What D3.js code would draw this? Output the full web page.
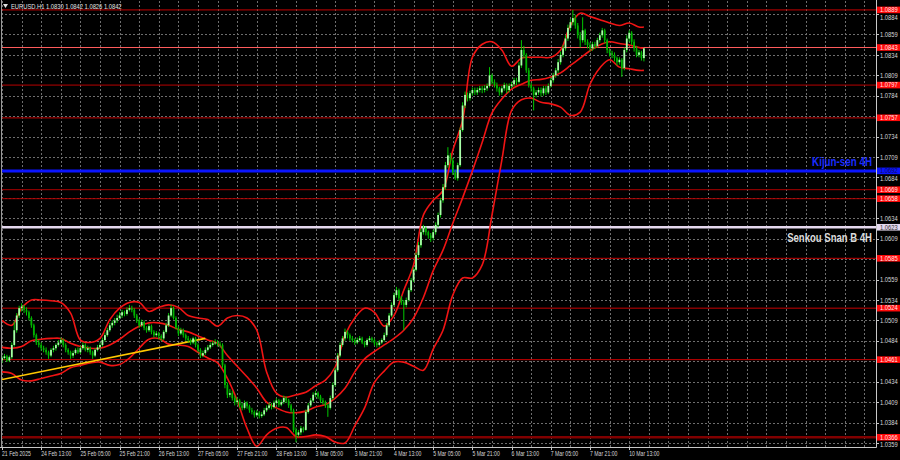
<!DOCTYPE html>
<html><head><meta charset="utf-8">
<script src="https://cdn.jsdelivr.net/npm/d3@7/dist/d3.min.js"></script>
<style>html,body{margin:0;padding:0;background:#000;overflow:hidden}</style>
</head><body>
<svg id="c" width="900" height="460"></svg>
<script>
// ---------- DATA (EURUSD H1) ----------
const symbolTitle = "EURUSD.H1  1.0830 1.0842 1.0826 1.0842";
const firstOpen = 1.0460;
const closes = [
1.0463,1.0465,1.0460,1.0464,1.0479,1.0497,1.0515,1.0524,1.0526,1.0522,
1.0519,1.0512,1.0503,1.0491,1.0482,1.0479,1.0475,1.0473,1.0470,1.0466,
1.0473,1.0475,1.0479,1.0482,1.0485,1.0479,1.0473,1.0470,1.0466,1.0469,
1.0473,1.0470,1.0475,1.0479,1.0473,1.0475,1.0470,1.0466,1.0473,1.0476,
1.0479,1.0485,1.0491,1.0497,1.0503,1.0506,1.0509,1.0512,1.0515,1.0519,
1.0517,1.0522,1.0524,1.0522,1.0515,1.0509,1.0503,1.0507,1.0500,1.0497,
1.0502,1.0495,1.0491,1.0493,1.0490,1.0487,1.0495,1.0503,1.0515,1.0524,
1.0512,1.0500,1.0493,1.0497,1.0491,1.0487,1.0485,1.0482,1.0487,1.0479,
1.0473,1.0466,1.0469,1.0473,1.0476,1.0479,1.0481,1.0482,1.0480,1.0479,
1.0454,1.0430,1.0418,1.0420,1.0414,1.0409,1.0411,1.0405,1.0402,1.0408,
1.0404,1.0399,1.0397,1.0393,1.0396,1.0392,1.0394,1.0399,1.0402,1.0405,
1.0403,1.0408,1.0411,1.0406,1.0409,1.0414,1.0411,1.0405,1.0399,1.0375,
1.0369,1.0372,1.0377,1.0375,1.0397,1.0405,1.0411,1.0418,1.0420,1.0416,
1.0411,1.0409,1.0405,1.0402,1.0414,1.0430,1.0448,1.0466,1.0479,1.0487,
1.0495,1.0491,1.0487,1.0485,1.0482,1.0485,1.0487,1.0482,1.0479,1.0485,
1.0487,1.0485,1.0481,1.0479,1.0482,1.0485,1.0491,1.0503,1.0515,1.0528,
1.0540,1.0546,1.0536,1.0531,1.0528,1.0534,1.0546,1.0558,1.0571,1.0589,
1.0601,1.0617,1.0622,1.0617,1.0613,1.0610,1.0617,1.0626,1.0638,1.0656,
1.0672,1.0699,1.0711,1.0705,1.0690,1.0683,1.0699,1.0742,1.0772,1.0785,
1.0781,1.0787,1.0791,1.0788,1.0791,1.0793,1.0791,1.0793,1.0796,1.0809,
1.0801,1.0797,1.0793,1.0788,1.0793,1.0797,1.0791,1.0796,1.0798,1.0803,
1.0801,1.0821,1.0840,1.0834,1.0815,1.0797,1.0793,1.0785,1.0788,1.0791,
1.0787,1.0793,1.0788,1.0796,1.0803,1.0809,1.0815,1.0825,1.0834,1.0842,
1.0854,1.0867,1.0874,1.0879,1.0870,1.0858,1.0852,1.0864,1.0850,1.0846,
1.0842,1.0847,1.0845,1.0852,1.0858,1.0864,1.0852,1.0840,1.0836,1.0834,
1.0830,1.0825,1.0828,1.0818,1.0840,1.0854,1.0861,1.0850,1.0842,1.0834,
1.0837,1.0830,1.0842];
const highs = [
1.0466,1.0468,1.0467,1.0466,1.0482,1.0508,1.0518,1.0527,1.0530,1.0528,
1.0525,1.0521,1.0514,1.0505,1.0493,1.0485,1.0482,1.0478,1.0476,1.0472,
1.0475,1.0478,1.0481,1.0485,1.0488,1.0487,1.0481,1.0475,1.0472,1.0472,
1.0475,1.0476,1.0478,1.0482,1.0481,1.0478,1.0477,1.0472,1.0475,1.0479,
1.0482,1.0488,1.0494,1.0500,1.0506,1.0509,1.0512,1.0516,1.0519,1.0522,
1.0521,1.0525,1.0528,1.0527,1.0524,1.0517,1.0511,1.0510,1.0509,1.0502,
1.0505,1.0504,1.0497,1.0496,1.0495,1.0492,1.0497,1.0506,1.0518,1.0528,
1.0526,1.0514,1.0502,1.0500,1.0499,1.0493,1.0490,1.0487,1.0489,1.0489,
1.0481,1.0475,1.0472,1.0476,1.0479,1.0482,1.0484,1.0486,1.0485,1.0483,
1.0481,1.0456,1.0433,1.0425,1.0423,1.0417,1.0415,1.0413,1.0408,1.0411,
1.0410,1.0406,1.0402,1.0399,1.0399,1.0398,1.0397,1.0402,1.0405,1.0408,
1.0408,1.0411,1.0414,1.0413,1.0412,1.0417,1.0416,1.0413,1.0407,1.0401,
1.0378,1.0375,1.0380,1.0379,1.0400,1.0408,1.0414,1.0421,1.0423,1.0422,
1.0418,1.0414,1.0411,1.0407,1.0417,1.0433,1.0451,1.0469,1.0482,1.0490,
1.0499,1.0497,1.0493,1.0490,1.0487,1.0488,1.0490,1.0489,1.0484,1.0487,
1.0490,1.0489,1.0487,1.0483,1.0485,1.0487,1.0494,1.0506,1.0518,1.0531,
1.0543,1.0550,1.0548,1.0539,1.0534,1.0537,1.0549,1.0561,1.0574,1.0592,
1.0605,1.0621,1.0626,1.0624,1.0619,1.0616,1.0620,1.0629,1.0641,1.0659,
1.0676,1.0703,1.0721,1.0714,1.0708,1.0693,1.0702,1.0745,1.0776,1.0789,
1.0788,1.0790,1.0794,1.0794,1.0794,1.0796,1.0796,1.0797,1.0799,1.0819,
1.0811,1.0804,1.0800,1.0795,1.0796,1.0800,1.0799,1.0799,1.0801,1.0806,
1.0806,1.0825,1.0852,1.0845,1.0836,1.0818,1.0800,1.0795,1.0791,1.0794,
1.0794,1.0796,1.0796,1.0799,1.0806,1.0812,1.0818,1.0829,1.0838,1.0846,
1.0858,1.0871,1.0878,1.0889,1.0883,1.0873,1.0862,1.0880,1.0866,1.0853,
1.0849,1.0850,1.0850,1.0855,1.0861,1.0867,1.0866,1.0854,1.0842,1.0839,
1.0837,1.0832,1.0831,1.0830,1.0843,1.0858,1.0864,1.0863,1.0853,1.0845,
1.0840,1.0839,1.0842];
const lows = [
1.0457,1.0461,1.0458,1.0458,1.0462,1.0477,1.0494,1.0512,1.0520,1.0518,
1.0515,1.0509,1.0500,1.0488,1.0479,1.0476,1.0472,1.0470,1.0467,1.0462,
1.0464,1.0470,1.0472,1.0477,1.0480,1.0476,1.0470,1.0467,1.0462,1.0463,
1.0467,1.0468,1.0468,1.0473,1.0471,1.0470,1.0467,1.0462,1.0464,1.0471,
1.0474,1.0477,1.0483,1.0489,1.0495,1.0500,1.0503,1.0506,1.0510,1.0512,
1.0514,1.0515,1.0520,1.0519,1.0512,1.0506,1.0500,1.0501,1.0497,1.0494,
1.0495,1.0492,1.0488,1.0489,1.0486,1.0484,1.0485,1.0493,1.0501,1.0513,
1.0510,1.0498,1.0490,1.0491,1.0488,1.0484,1.0482,1.0479,1.0480,1.0476,
1.0470,1.0463,1.0464,1.0467,1.0471,1.0474,1.0477,1.0479,1.0477,1.0476,
1.0451,1.0426,1.0414,1.0415,1.0411,1.0405,1.0406,1.0402,1.0399,1.0400,
1.0401,1.0396,1.0394,1.0390,1.0391,1.0389,1.0390,1.0392,1.0397,1.0400,
1.0400,1.0401,1.0406,1.0403,1.0404,1.0407,1.0408,1.0402,1.0396,1.0372,
1.0360,1.0366,1.0369,1.0372,1.0374,1.0395,1.0403,1.0409,1.0415,1.0413,
1.0408,1.0406,1.0402,1.0391,1.0400,1.0412,1.0428,1.0446,1.0464,1.0477,
1.0484,1.0487,1.0484,1.0482,1.0479,1.0480,1.0483,1.0480,1.0476,1.0477,
1.0483,1.0482,1.0478,1.0476,1.0477,1.0480,1.0483,1.0489,1.0501,1.0513,
1.0526,1.0537,1.0533,1.0528,1.0497,1.0525,1.0532,1.0544,1.0556,1.0569,
1.0586,1.0598,1.0614,1.0613,1.0609,1.0605,1.0607,1.0614,1.0623,1.0635,
1.0653,1.0669,1.0696,1.0701,1.0687,1.0681,1.0680,1.0697,1.0740,1.0769,
1.0777,1.0778,1.0784,1.0785,1.0785,1.0788,1.0787,1.0788,1.0790,1.0794,
1.0798,1.0794,1.0789,1.0784,1.0785,1.0790,1.0787,1.0788,1.0793,1.0795,
1.0797,1.0799,1.0818,1.0830,1.0812,1.0794,1.0789,1.0766,1.0782,1.0785,
1.0783,1.0784,1.0785,1.0786,1.0794,1.0800,1.0806,1.0812,1.0822,1.0831,
1.0839,1.0851,1.0863,1.0870,1.0866,1.0854,1.0843,1.0849,1.0846,1.0842,
1.0838,1.0839,1.0841,1.0843,1.0849,1.0855,1.0848,1.0836,1.0832,1.0830,
1.0826,1.0821,1.0822,1.0807,1.0815,1.0837,1.0850,1.0846,1.0838,1.0831,
1.0831,1.0827,1.0826];

// Bollinger bands, read at every 4th bar
const bbIndex = [0,4,8,12,16,20,24,28,32,36,40,44,48,52,56,60,64,68,72,76,80,84,88,92,96,100,
 104,108,112,116,120,124,128,132,136,140,144,148,152,156,160,164,168,172,176,180,184,188,192,196,
 200,204,208,212,216,220,224,228,232,236,240,244,248,252,256,260,262];
const bbUpper = [1.0509,1.0503,1.0524,1.0534,1.0534,1.0533,1.0531,1.0518,1.0485,1.0482,1.0487,1.0510,
 1.0524,1.0531,1.0531,1.0520,1.0525,1.0528,1.0525,1.0515,1.0512,1.0510,1.0502,1.0512,1.0515,1.0512,
 1.0497,1.0446,1.0420,1.0415,1.0418,1.0421,1.0429,1.0436,1.0452,1.0491,1.0512,1.0524,1.0519,1.0502,
 1.0515,1.0546,1.0577,1.0638,1.0656,1.0668,1.0717,1.0754,1.0831,1.0847,1.0850,1.0840,1.0820,1.0830,
 1.0831,1.0831,1.0831,1.0840,1.0870,1.0885,1.0881,1.0877,1.0873,1.0870,1.0873,1.0868,1.0868];
const bbMiddle = [1.0476,1.0475,1.0477,1.0484,1.0486,1.0487,1.0487,1.0481,1.0477,1.0475,1.0475,1.0479,
 1.0486,1.0495,1.0502,1.0506,1.0506,1.0503,1.0498,1.0495,1.0490,1.0485,1.0481,1.0466,1.0453,1.0440,
 1.0426,1.0409,1.0402,1.0397,1.0396,1.0398,1.0403,1.0406,1.0414,1.0426,1.0446,1.0462,1.0471,1.0479,
 1.0487,1.0497,1.0512,1.0537,1.0570,1.0595,1.0628,1.0659,1.0692,1.0727,1.0763,1.0780,1.0792,1.0798,
 1.0803,1.0804,1.0807,1.0812,1.0821,1.0830,1.0839,1.0846,1.0850,1.0848,1.0846,1.0843,1.0842];
const bbLower = [1.0446,1.0444,1.0436,1.0435,1.0438,1.0441,1.0444,1.0451,1.0454,1.0457,1.0458,1.0454,
 1.0455,1.0463,1.0475,1.0486,1.0487,1.0480,1.0479,1.0477,1.0470,1.0463,1.0457,1.0438,1.0411,1.0377,
 1.0355,1.0369,1.0377,1.0378,1.0367,1.0367,1.0369,1.0367,1.0360,1.0359,1.0380,1.0402,1.0433,1.0447,
 1.0458,1.0458,1.0453,1.0448,1.0474,1.0497,1.0540,1.0561,1.0561,1.0577,1.0638,1.0705,1.0766,1.0779,
 1.0781,1.0776,1.0774,1.0770,1.0760,1.0764,1.0798,1.0818,1.0828,1.0819,1.0817,1.0815,1.0815];

// yellow trend line: [bar index, price]
const trendPoints = [[-1, 1.0436], [83, 1.0487]];

// horizontal levels
const redLevels = [1.0889, 1.0843, 1.0797, 1.0757, 1.0669, 1.0658, 1.0585, 1.0524, 1.0461, 1.0366];
const kijunLevel = 1.0692;
const senkouLevel = 1.0623;
const kijunText = "Kijun-sen 4H";
const senkouText = "Senkou Snan B 4H";

// axis
const priceTicks = [1.0359,1.0384,1.0409,1.0434,1.0459,1.0484,1.0509,1.0534,1.0559,1.0584,1.0609,
 1.0634,1.0659,1.0684,1.0709,1.0734,1.0759,1.0784,1.0809,1.0834,1.0859,1.0884];
const timeLabels = ["21 Feb 2025","24 Feb 13:00","25 Feb 05:00","25 Feb 21:00","26 Feb 13:00",
 "27 Feb 05:00","27 Feb 21:00","28 Feb 13:00","3 Mar 05:00","3 Mar 21:00","4 Mar 13:00",
 "5 Mar 05:00","5 Mar 21:00","6 Mar 13:00","7 Mar 05:00","7 Mar 21:00","10 Mar 13:00"];
const labelEvery = 16, gridEvery = 8;

// ---------- STYLES ----------
const levelStyle = {
  1.0889:{c:"#c40000",w:1}, 1.0843:{c:"#ff5c5c",w:1.2}, 1.0797:{c:"#b80000",w:1},
  1.0757:{c:"#9c0000",w:1.2}, 1.0669:{c:"#a80000",w:1}, 1.0658:{c:"#b00000",w:1},
  1.0585:{c:"#c00000",w:1}, 1.0524:{c:"#c80000",w:1}, 1.0461:{c:"#c80000",w:1},
  1.0366:{c:"#800000",w:2.6}
};
const plotR = 876, plotB = 447;

// ---------- DRAW ----------
const svg = d3.select("#c");
svg.append("rect").attr("width",900).attr("height",460).attr("fill","#000");

const x = d3.scaleLinear().domain([0, closes.length-1]).range([2, 2 + (closes.length-1)*2.45]);
const y = d3.scaleLinear().domain([1.0359, 1.0884]).range([443, 14]);
const step = x(1) - x(0);

svg.append("clipPath").attr("id","clp").append("rect").attr("x",1).attr("y",1).attr("width",plotR-1).attr("height",plotB-1);
const plot = svg.append("g").attr("clip-path","url(#clp)");

// grid
const nGrid = Math.floor((plotR - x(0)) / (step*gridEvery));
const gridIdx = d3.range(0, nGrid+1).map(k => k*gridEvery);
plot.selectAll(".vg").data(gridIdx).join("line")
  .attr("x1", d => Math.round(x(d))+0.5).attr("x2", d => Math.round(x(d))+0.5)
  .attr("y1", 1).attr("y2", plotB)
  .attr("stroke","#6e6e6e").attr("stroke-width",1).attr("stroke-dasharray","2,2");
plot.selectAll(".hg").data(priceTicks).join("line")
  .attr("x1", 1).attr("x2", plotR)
  .attr("y1", d => Math.round(y(d))+0.5).attr("y2", d => Math.round(y(d))+0.5)
  .attr("stroke","#6e6e6e").attr("stroke-width",1).attr("stroke-dasharray","2,2");

// levels
plot.selectAll(".lv").data(redLevels).join("line")
  .attr("x1",1).attr("x2",plotR)
  .attr("y1", d => y(d)).attr("y2", d => y(d))
  .attr("stroke", d => levelStyle[d].c).attr("stroke-width", d => levelStyle[d].w);
plot.append("line").attr("x1",1).attr("x2",plotR).attr("y1",y(kijunLevel)).attr("y2",y(kijunLevel))
  .attr("stroke","#0a14ff").attr("stroke-width",3);
plot.append("line").attr("x1",1).attr("x2",plotR).attr("y1",y(senkouLevel)).attr("y2",y(senkouLevel))
  .attr("stroke","#e4d8ee").attr("stroke-width",2.4);

// bands
const bandLine = vals => d3.line().x((d,k) => x(bbIndex[k])).y(d => y(d)).curve(d3.curveCatmullRom.alpha(0.5))(vals);
[bbUpper, bbMiddle, bbLower].forEach(v => {
  plot.append("path").attr("d", bandLine(v)).attr("fill","none")
    .attr("stroke","#f01414").attr("stroke-width",1.6);
});

// trend line
plot.append("line")
  .attr("x1", x(trendPoints[0][0])).attr("y1", y(trendPoints[0][1]))
  .attr("x2", x(trendPoints[1][0])).attr("y2", y(trendPoints[1][1]))
  .attr("stroke","#ffc800").attr("stroke-width",1.6);

// candles
const bars = closes.map((c,i) => ({i, o: i===0 ? firstOpen : closes[i-1], c, h: highs[i], l: lows[i]}));
const cg = plot.append("g");
cg.selectAll(".wk").data(bars).join("line")
  .attr("x1", d => x(d.i)).attr("x2", d => x(d.i))
  .attr("y1", d => y(d.h)).attr("y2", d => y(d.l))
  .attr("stroke","#00c800").attr("stroke-width",1);
cg.selectAll(".bd").data(bars).join("rect")
  .attr("x", d => x(d.i) - 0.9).attr("width", 1.8)
  .attr("y", d => y(Math.max(d.o,d.c)))
  .attr("height", d => Math.max(1, Math.abs(y(d.o) - y(d.c))))
  .attr("fill", d => d.c >= d.o ? "#a8ffa8" : "#00b400");

// frame
svg.append("line").attr("x1",plotR+0.5).attr("x2",plotR+0.5).attr("y1",0).attr("y2",plotB+0.5).attr("stroke","#c8c8c8");
svg.append("line").attr("x1",0).attr("x2",plotR+0.5).attr("y1",plotB+0.5).attr("y2",plotB+0.5).attr("stroke","#c8c8c8");
svg.append("line").attr("x1",1.5).attr("x2",1.5).attr("y1",0).attr("y2",plotB).attr("stroke","#9a9a9a");

// helper: text squeezed horizontally to a target width
function fitText(parent, str, px, py, anchor, size, weight, fill, family, targetW) {
  const g = parent.append("g");
  const t = g.append("text").attr("font-family",family).attr("font-weight",weight)
    .attr("font-size",size).attr("fill",fill).attr("text-anchor",anchor).text(str);
  const len = t.node().getComputedTextLength() || targetW;
  g.attr("transform", `translate(${px},${py}) scale(${targetW/len},1)`);
  return g;
}

// texts on chart
const narrow = "'Liberation Sans Narrow','Liberation Sans',Arial,sans-serif";
fitText(svg, kijunText, 872, 165.5, "end", 12.5, "bold", "#1a2cff", narrow, 60);
fitText(svg, senkouText, 872, 241.5, "end", 12, "bold", "#dcdcdc", narrow, 85);

// title
svg.append("path").attr("d","M3,4 L8,4 L5.5,8 Z").attr("fill","#e0e0e0");
fitText(svg, symbolTitle, 11, 8.5, "start", 7, "normal", "#e6e6e6", "'Liberation Sans',Arial,sans-serif", 111);

// price axis labels
const axFont = "'Liberation Sans',Arial,sans-serif";
const fmt = d3.format(".4f");
const boxLevels = redLevels.concat([kijunLevel, senkouLevel]);
const visibleTicks = priceTicks.filter(t => boxLevels.every(b => Math.abs(y(b) - y(t)) > 3));
// keep a tick label clear of a nearby coloured box label
function tickCenter(t) {
  let c = y(t);
  boxLevels.forEach(b => {
    const d = c - y(b);
    if (Math.abs(d) < 7.6) c = y(b) + (d >= 0 ? 7.6 : -7.6);
  });
  return c;
}
const pa = svg.append("g");
pa.selectAll(".pt").data(visibleTicks).join("text")
  .attr("transform", d => `translate(880,${tickCenter(d)+2.5}) scale(0.88,1)`)
  .attr("font-family",axFont).attr("font-size",6.6).attr("fill","#d8d8d8").text(d => fmt(d));
pa.selectAll(".ptk").data(priceTicks).join("line")
  .attr("x1",plotR+1).attr("x2",plotR+3).attr("y1",d=>Math.round(y(d))+0.5).attr("y2",d=>Math.round(y(d))+0.5)
  .attr("stroke","#c8c8c8");

function axisBox(v, fill, txt, h) {
  const yy = y(v);
  pa.append("rect").attr("x",877).attr("y",yy - h/2).attr("width",23).attr("height",h).attr("fill",fill);
  pa.append("text").attr("transform",`translate(880,${yy+2.3}) scale(0.88,1)`)
    .attr("font-family",axFont).attr("font-size",6.6).attr("fill",txt).text(fmt(v));
}
redLevels.forEach(v => axisBox(v, "#ff0a0a", "#ffe8e8", 6.6));
axisBox(kijunLevel, "#0a14ff", "#0a0a60", 6.6);
axisBox(senkouLevel, "#e4d8ee", "#303030", 6.6);

// time axis
const tIdx = timeLabels.map((t,k) => ({t, i: k*labelEvery}));
svg.selectAll(".tl").data(tIdx).join("text")
  .attr("transform", d => `translate(${x(d.i)},${455.5}) scale(0.78,1)`)
  .attr("font-family",axFont).attr("font-size",6.6).attr("fill","#d8d8d8").text(d => d.t);
svg.selectAll(".tk").data(tIdx).join("line")
  .attr("x1", d => Math.round(x(d.i))+0.5).attr("x2", d => Math.round(x(d.i))+0.5)
  .attr("y1", plotB).attr("y2", plotB+3).attr("stroke","#c8c8c8");
</script>
</body></html>
